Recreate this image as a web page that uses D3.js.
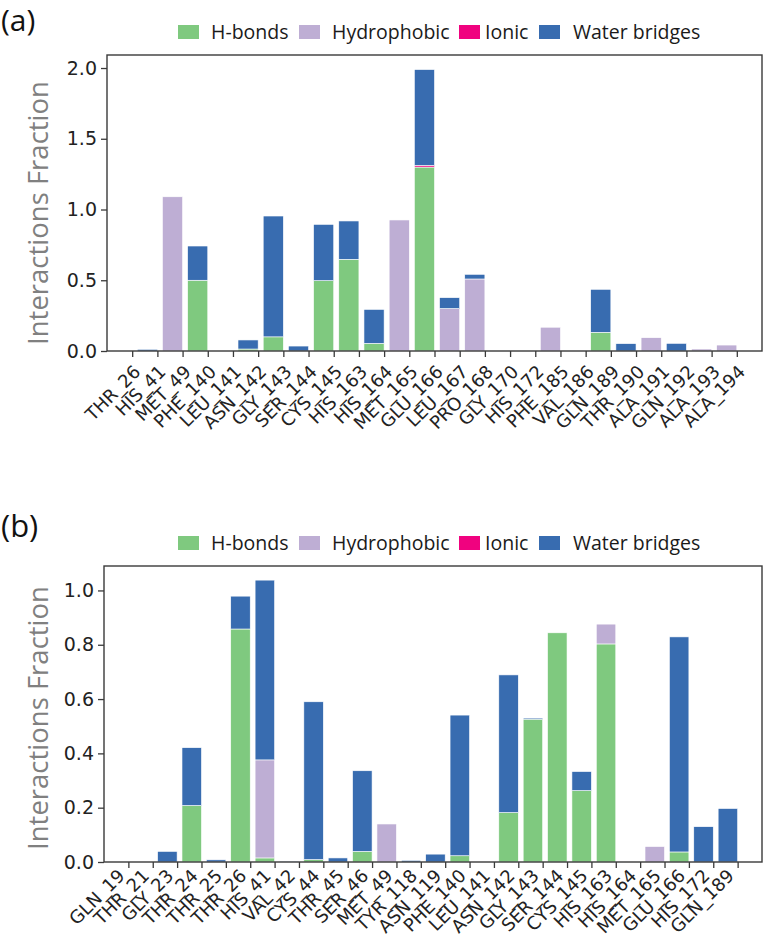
<!DOCTYPE html>
<html>
<head>
<meta charset="utf-8">
<script src="https://cdn.jsdelivr.net/npm/d3@7"></script>
<style>
  html, body { margin: 0; padding: 0; background: #fff; }
  svg { display: block; }
</style>
</head>
<body>
<svg id="chart" width="765" height="937"></svg>
<script>
// ---------- data ----------
const seriesNames = ["H-bonds", "Hydrophobic", "Ionic", "Water bridges"];
const seriesColors = ["#7fc97f", "#beaed4", "#f0027f", "#386cb0"];

const labelsA = ["THR_26","HIS_41","MET_49","PHE_140","LEU_141","ASN_142","GLY_143","SER_144","CYS_145","HIS_163","HIS_164","MET_165","GLU_166","LEU_167","PRO_168","GLY_170","HIS_172","PHE_185","VAL_186","GLN_189","THR_190","ALA_191","GLN_192","ALA_193","ALA_194"];
const hbondsA = [0,0,0,0.50,0,0.014,0.10,0,0.497,0.648,0.054,0,1.30,0,0,0,0,0,0,0.132,0,0,0,0,0];
const hydroA  = [0,0,1.09,0,0,0,0,0,0,0,0,0.926,0,0.30,0.509,0,0,0.168,0,0,0,0.094,0,0.014,0.042];
const ionicA  = [0,0,0,0,0,0,0,0,0,0,0,0,0.012,0,0,0,0,0,0,0,0,0,0,0,0];
const waterA  = [0,0.012,0,0.242,0,0.064,0.854,0.035,0.398,0.271,0.24,0,0.677,0.077,0.033,0,0,0,0,0.304,0.052,0,0.054,0,0];
const yTicksA = [0, 0.5, 1.0, 1.5, 2.0];

const labelsB = ["GLN_19","THR_21","GLY_23","THR_24","THR_25","THR_26","HIS_41","VAL_42","CYS_44","THR_45","SER_46","MET_49","TYR_118","ASN_119","PHE_140","LEU_141","ASN_142","GLY_143","SER_144","CYS_145","HIS_163","HIS_164","MET_165","GLU_166","HIS_172","GLN_189"];
const hbondsB = [0,0,0,0.208,0,0.858,0.015,0,0.009,0,0.039,0,0,0,0.023,0,0.182,0.526,0.844,0.263,0.803,0,0,0.037,0,0];
const hydroB  = [0,0,0,0,0,0,0.361,0,0,0,0,0.14,0,0,0,0,0,0,0,0,0.073,0,0.057,0,0,0];
const ionicB  = [0,0,0,0,0,0,0,0,0,0,0,0,0,0,0,0,0,0,0,0,0,0,0,0,0,0];
const waterB  = [0,0,0.039,0.213,0.008,0.121,0.662,0.003,0.581,0.015,0.297,0,0.006,0.029,0.518,0,0.507,0.004,0,0.07,0,0,0,0.792,0.13,0.197];
const yTicksB = [0, 0.2, 0.4, 0.6, 0.8, 1.0];

// ---------- layout ----------
const svg = d3.select("#chart");
const panels = [
  { tag: "(a)", labels: labelsA, series: [hbondsA, hydroA, ionicA, waterA], yTicks: yTicksA, yMax: 2.092,
    left: 107, right: 762, top: 55, bottom: 351, tagY: 31, tagSize: 30, ylabY: 213, lblDx: 9, lblDy: 22 },
  { tag: "(b)", labels: labelsB, series: [hbondsB, hydroB, ionicB, waterB], yTicks: yTicksB, yMax: 1.09,
    left: 104, right: 762, top: 566, bottom: 862, tagY: 537, tagSize: 31, ylabY: 718, lblDx: -3, lblDy: 15 }
];
const legendLayout = [
  { sx: 178, tx: 211 },
  { sx: 299, tx: 332 },
  { sx: 459, tx: 485 },
  { sx: 539, tx: 573 }
];

panels.forEach(p => {
  const n = p.labels.length;
  const x = d3.scaleLinear().domain([-1, n]).range([p.left, p.right]);
  const y = d3.scaleLinear().domain([0, p.yMax]).range([p.bottom, p.top]);
  const g = svg.append("g");

  // stacked data
  const rows = p.labels.map((lab, i) => {
    const r = { label: lab, i: i };
    seriesNames.forEach((s, k) => r[s] = p.series[k][i]);
    return r;
  });
  const stacked = d3.stack().keys(seriesNames)(rows);

  stacked.forEach((layer, k) => {
    g.append("g").selectAll("rect")
      .data(layer.filter(d => d[1] - d[0] > 0))
      .join("rect")
      .attr("x", d => x(d.data.i - 0.8))
      .attr("width", d => x(d.data.i) - x(d.data.i - 0.8))
      .attr("y", d => y(d[1]))
      .attr("height", d => y(d[0]) - y(d[1]))
      .attr("fill", seriesColors[k])
      .attr("stroke", "#ffffff")
      .attr("stroke-width", 0.6);
  });

  // frame
  g.append("rect")
    .attr("x", p.left).attr("y", p.top)
    .attr("width", p.right - p.left).attr("height", p.bottom - p.top)
    .attr("fill", "none").attr("stroke", "#3a3a3a").attr("stroke-width", 1.4);

  // y axis
  const yAxis = g.append("g").attr("transform", `translate(${p.left},0)`)
    .call(d3.axisLeft(y).tickValues(p.yTicks).tickFormat(d3.format(".1f")).tickSize(6).tickPadding(4));
  yAxis.select(".domain").remove();
  yAxis.selectAll("line").attr("stroke", "#3a3a3a").attr("stroke-width", 1.3);
  yAxis.selectAll("text").attr("font-family", "DejaVu Sans").attr("font-size", 19).attr("fill", "#222");

  // x axis
  const xAxis = g.append("g").attr("transform", `translate(0,${p.bottom})`)
    .call(d3.axisBottom(x).tickValues(d3.range(n)).tickFormat(i => p.labels[i]).tickSize(6));
  xAxis.select(".domain").remove();
  xAxis.selectAll("line").attr("stroke", "#3a3a3a").attr("stroke-width", 1.3);
  xAxis.selectAll("text")
    .attr("font-family", "DejaVu Sans").attr("font-size", 18).attr("fill", "#222")
    .attr("text-anchor", "end")
    .attr("dy", null).attr("y", null)
    .attr("transform", `translate(${p.lblDx},${p.lblDy}) rotate(-45)`);

  // y label
  g.append("text")
    .attr("transform", `translate(48,${p.ylabY}) rotate(-90)`)
    .attr("text-anchor", "middle")
    .attr("font-family", "Open Sans").attr("font-size", 27.5).attr("fill", "#808080")
    .text("Interactions Fraction");

  // panel tag
  g.append("text")
    .attr("x", 1).attr("y", p.tagY)
    .attr("font-family", "Open Sans").attr("font-size", p.tagSize).attr("fill", "#111")
    .text(p.tag);

  // legend
  const legY = p.top - 16;
  const leg = g.append("g");
  seriesNames.forEach((s, k) => {
    leg.append("rect")
      .attr("x", legendLayout[k].sx).attr("y", legY - 14)
      .attr("width", 21).attr("height", 14)
      .attr("fill", seriesColors[k]);
    leg.append("text")
      .attr("x", legendLayout[k].tx).attr("y", legY)
      .attr("font-family", "Open Sans").attr("font-size", 19.5).attr("fill", "#1a1a1a")
      .text(s);
  });
});
</script>
</body>
</html>
